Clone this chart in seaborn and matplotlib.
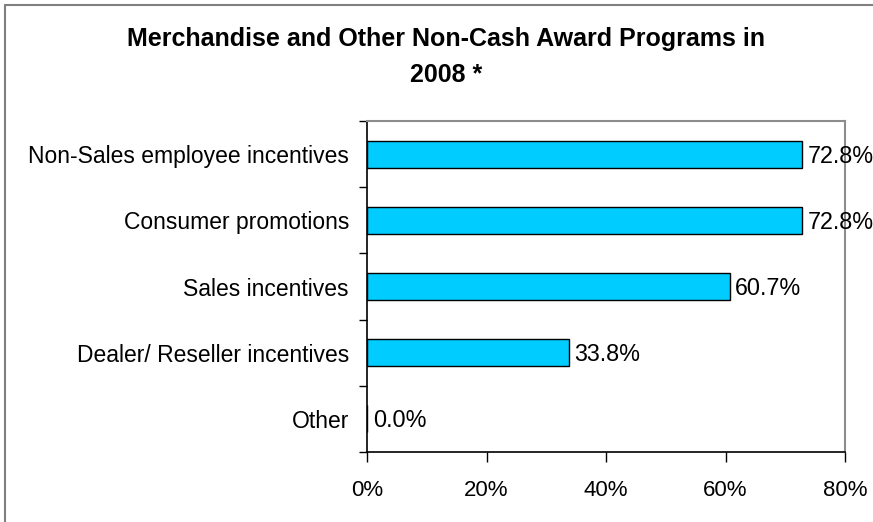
import matplotlib
matplotlib.use("Agg")
import matplotlib.pyplot as plt
from matplotlib.lines import Line2D
from matplotlib.ticker import FixedLocator, PercentFormatter
import seaborn as sns
import pandas as pd

categories = [
    "Non-Sales employee incentives",
    "Consumer promotions",
    "Sales incentives",
    "Dealer/ Reseller incentives",
    "Other",
]
values = [72.8, 72.8, 60.7, 33.8, 0.0]
x_ticks = [0, 20, 40, 60, 80]
title = "Merchandise and Other Non-Cash Award Programs in\n2008 *"

df = pd.DataFrame({"category": categories, "value": values})

sns.set_theme(style="white")
plt.rcParams["font.family"] = ["Liberation Sans", "DejaVu Sans"]
plt.rcParams["text.color"] = "black"
plt.rcParams["xtick.labelcolor"] = "black"
plt.rcParams["ytick.labelcolor"] = "black"

fig = plt.figure(figsize=(8.73, 5.22), dpi=100)
ax = fig.add_axes([367 / 873, 1 - 452 / 522, (845 - 367) / 873, (452 - 121) / 522])

sns.barplot(data=df, x="value", y="category", orient="h", color="#00CCFF",
            edgecolor="black", linewidth=1.0, width=0.41, saturation=1,
            ax=ax)
for p in ax.patches:
    p.set_facecolor("#00CCFF")

ax.set_xlim(0, 80)
ax.set_ylim(len(categories) - 0.5, -0.5)
ax.set_xlabel("")
ax.set_ylabel("")
ax.xaxis.set_major_locator(FixedLocator(x_ticks))
ax.xaxis.set_major_formatter(PercentFormatter(decimals=0))

# category boundaries carry the tick marks, the labels sit between them
ax.yaxis.set_minor_locator(FixedLocator([i - 0.5 for i in range(len(categories) + 1)]))
ax.tick_params(axis="y", which="major", length=0, pad=13, labelsize=16.5)
ax.tick_params(axis="y", which="minor", left=True, length=6, width=1, color="black")
ax.tick_params(axis="x", which="major", bottom=True, length=7, width=1,
               color="black", pad=13, labelsize=16)

for side in ("left", "bottom"):
    ax.spines[side].set_color("black")
    ax.spines[side].set_linewidth(1.2)
for side in ("top", "right"):
    ax.spines[side].set_visible(True)
    ax.spines[side].set_color("#8c8c8c")
    ax.spines[side].set_linewidth(1.5)

for i, v in enumerate(values):
    ax.text(v + 0.95, i + 0.03, f"{v:.1f}%", va="center", ha="left", fontsize=16.8,
            color="black", clip_on=False)

fig.text(446 / 873, 1 - 57 / 522, title, ha="center", va="center",
         fontsize=18, fontweight="bold", linespacing=1.62, color="black")

# chart frame: left and top edges
x0, y0 = 4.5 / 873, 1 - 4.5 / 522
fig.add_artist(Line2D([x0, x0], [0, y0], transform=fig.transFigure,
                      color="#808080", linewidth=1.5))
fig.add_artist(Line2D([x0, 1], [y0, y0], transform=fig.transFigure,
                      color="#808080", linewidth=1.5))

fig.savefig("out.png", dpi=100, facecolor="white")
